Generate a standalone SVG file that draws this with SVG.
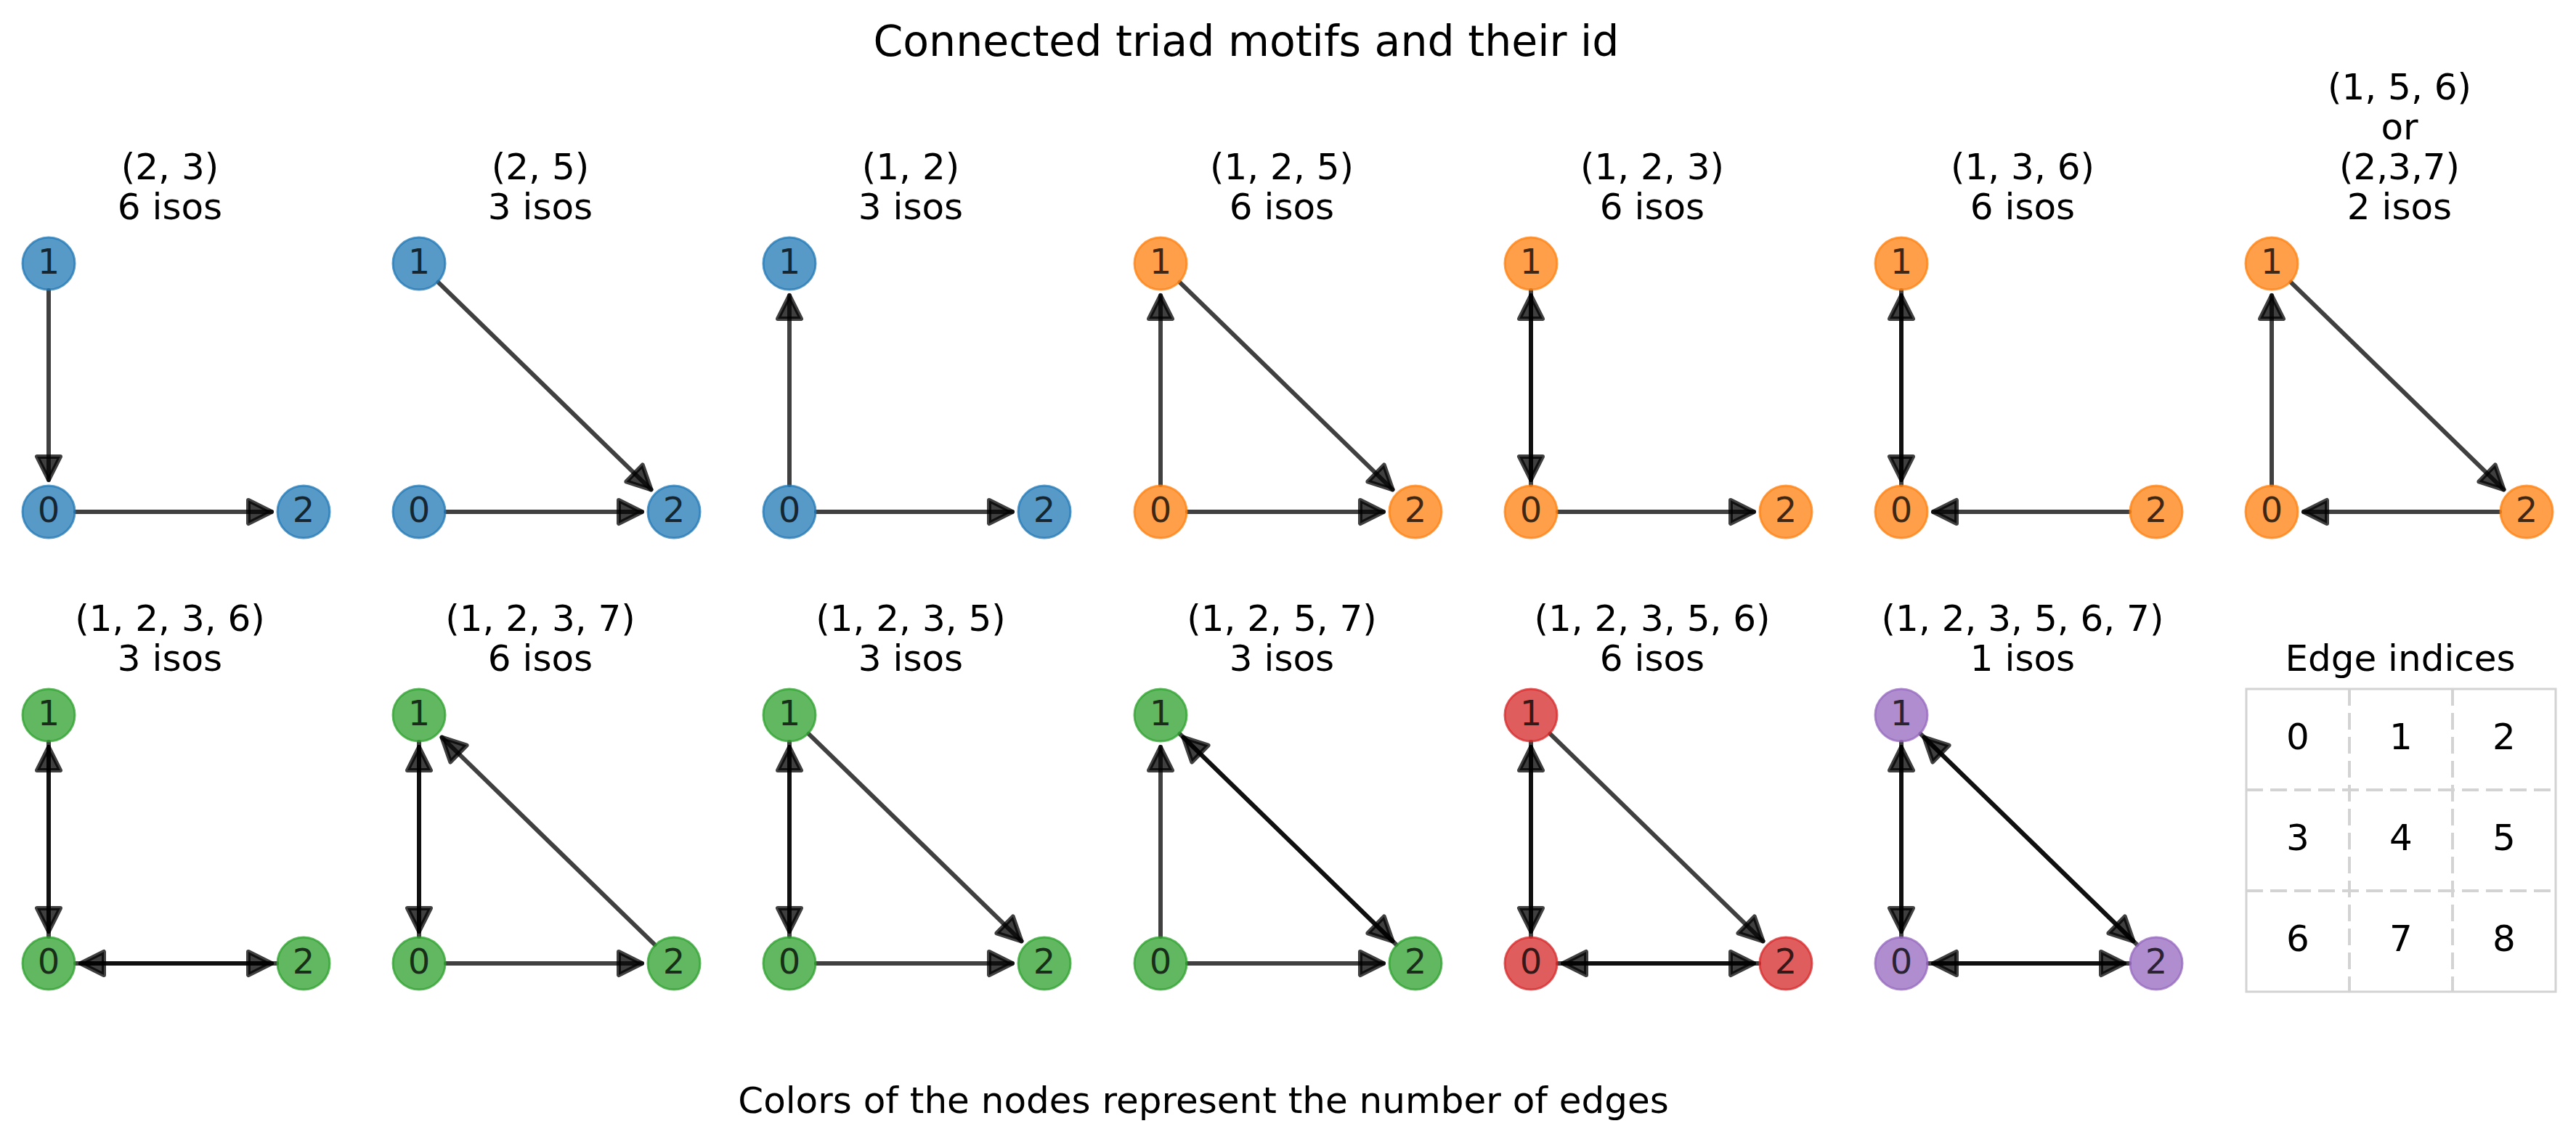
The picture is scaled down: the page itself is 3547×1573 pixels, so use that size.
<svg xmlns="http://www.w3.org/2000/svg" width="3547" height="1573" viewBox="0 0 3547 1573">
<style>
text{font-family:"DejaVu Sans","Liberation Sans",sans-serif;fill:#000}
.title{font-size:58.5px;text-anchor:middle}
.sub{font-size:50px;text-anchor:middle}
.lbl{font-size:48px;text-anchor:middle;fill-opacity:.75}
.cell{font-size:50px;text-anchor:middle}
.e{stroke:#000;stroke-opacity:.75;stroke-width:6;stroke-linecap:round;fill:none;marker-end:url(#ah)}
.n circle{stroke-width:3;fill-opacity:.75;stroke-opacity:.75}
.blue circle{fill:#1f77b4;stroke:#1f77b4}
.orange circle{fill:#ff7f0e;stroke:#ff7f0e}
.green circle{fill:#2ca02c;stroke:#2ca02c}
.red circle{fill:#d62728;stroke:#d62728}
.purple circle{fill:#9467bd;stroke:#9467bd}
.grid{stroke:#d3d3d3;stroke-width:4;stroke-dasharray:23 10;fill:none}
</style>
<defs>
<marker id="ah" markerUnits="userSpaceOnUse" orient="auto" refX="0" refY="0" markerWidth="80" markerHeight="80" viewBox="-40 -40 80 80" overflow="visible">
<path d="M-32,-16 L0,0 L-32,16 Z" fill="#000" fill-opacity=".75" stroke="#000" stroke-opacity=".75" stroke-width="6" stroke-linejoin="round"/>
</marker>
</defs>
<rect width="3547" height="1573" fill="#fff"/>
<text class="title" x="1716" y="77">Connected triad motifs and their id</text>

<g id="subtitles">
<text class="sub" x="234" y="247">(2, 3)</text><text class="sub" x="234" y="302">6 isos</text>
<text class="sub" x="744" y="247">(2, 5)</text><text class="sub" x="744" y="302">3 isos</text>
<text class="sub" x="1254" y="247">(1, 2)</text><text class="sub" x="1254" y="302">3 isos</text>
<text class="sub" x="1765" y="247">(1, 2, 5)</text><text class="sub" x="1765" y="302">6 isos</text>
<text class="sub" x="2275" y="247">(1, 2, 3)</text><text class="sub" x="2275" y="302">6 isos</text>
<text class="sub" x="2785" y="247">(1, 3, 6)</text><text class="sub" x="2785" y="302">6 isos</text>
<text class="sub" x="3304" y="137">(1, 5, 6)</text><text class="sub" x="3304" y="192">or</text><text class="sub" x="3304" y="247">(2,3,7)</text><text class="sub" x="3304" y="302">2 isos</text>
<text class="sub" x="234" y="869">(1, 2, 3, 6)</text><text class="sub" x="234" y="924">3 isos</text>
<text class="sub" x="744" y="869">(1, 2, 3, 7)</text><text class="sub" x="744" y="924">6 isos</text>
<text class="sub" x="1254" y="869">(1, 2, 3, 5)</text><text class="sub" x="1254" y="924">3 isos</text>
<text class="sub" x="1765" y="869">(1, 2, 5, 7)</text><text class="sub" x="1765" y="924">3 isos</text>
<text class="sub" x="2275" y="869">(1, 2, 3, 5, 6)</text><text class="sub" x="2275" y="924">6 isos</text>
<text class="sub" x="2785" y="869">(1, 2, 3, 5, 6, 7)</text><text class="sub" x="2785" y="924">1 isos</text>
</g>

<g id="connectors">
<path class="e" d="M67,400 L67,661"/>
<path class="e" d="M104,705 L374,705"/>

<path class="e" d="M614,705 L884,705"/>
<path class="e" d="M603.5,388.8 L896.5,674.3"/>

<path class="e" d="M1087,668 L1087,407"/>
<path class="e" d="M1124,705 L1394,705"/>

<path class="e" d="M1598,668 L1598,407"/>
<path class="e" d="M1635,705 L1905,705"/>
<path class="e" d="M1624.5,388.8 L1917.5,674.3"/>

<path class="e" d="M2108,668 L2108,407"/>
<path class="e" d="M2108,400 L2108,661"/>
<path class="e" d="M2145,705 L2415,705"/>

<path class="e" d="M2618,668 L2618,407"/>
<path class="e" d="M2618,400 L2618,661"/>
<path class="e" d="M2932,705 L2662,705"/>

<path class="e" d="M3128,668 L3128,407"/>
<path class="e" d="M3154.5,388.8 L3447.5,674.3"/>
<path class="e" d="M3442,705 L3172,705"/>

<path class="e" d="M67,1290 L67,1029"/>
<path class="e" d="M67,1022 L67,1283"/>
<path class="e" d="M104,1327 L374,1327"/>
<path class="e" d="M381,1327 L111,1327"/>

<path class="e" d="M577,1290 L577,1029"/>
<path class="e" d="M577,1022 L577,1283"/>
<path class="e" d="M614,1327 L884,1327"/>
<path class="e" d="M901.5,1301.2 L608.5,1015.7"/>

<path class="e" d="M1087,1290 L1087,1029"/>
<path class="e" d="M1087,1022 L1087,1283"/>
<path class="e" d="M1124,1327 L1394,1327"/>
<path class="e" d="M1113.5,1010.8 L1406.5,1296.3"/>

<path class="e" d="M1598,1290 L1598,1029"/>
<path class="e" d="M1635,1327 L1905,1327"/>
<path class="e" d="M1624.5,1010.8 L1917.5,1296.3"/>
<path class="e" d="M1922.5,1301.2 L1629.5,1015.7"/>

<path class="e" d="M2108,1290 L2108,1029"/>
<path class="e" d="M2108,1022 L2108,1283"/>
<path class="e" d="M2145,1327 L2415,1327"/>
<path class="e" d="M2422,1327 L2152,1327"/>
<path class="e" d="M2134.5,1010.8 L2427.5,1296.3"/>

<path class="e" d="M2618,1290 L2618,1029"/>
<path class="e" d="M2618,1022 L2618,1283"/>
<path class="e" d="M2655,1327 L2925,1327"/>
<path class="e" d="M2932,1327 L2662,1327"/>
<path class="e" d="M2644.5,1010.8 L2937.5,1296.3"/>
<path class="e" d="M2942.5,1301.2 L2649.5,1015.7"/>
</g>

<g id="nodes">
<g id="r1p1-n1" class="n blue"><circle cx="67" cy="363" r="36"/><text class="lbl" x="67" y="377">1</text></g>
<g id="r1p1-n0" class="n blue"><circle cx="67" cy="705" r="36"/><text class="lbl" x="67" y="719">0</text></g>
<g id="r1p1-n2" class="n blue"><circle cx="418" cy="705" r="36"/><text class="lbl" x="418" y="719">2</text></g>

<g id="r1p2-n1" class="n blue"><circle cx="577" cy="363" r="36"/><text class="lbl" x="577" y="377">1</text></g>
<g id="r1p2-n0" class="n blue"><circle cx="577" cy="705" r="36"/><text class="lbl" x="577" y="719">0</text></g>
<g id="r1p2-n2" class="n blue"><circle cx="928" cy="705" r="36"/><text class="lbl" x="928" y="719">2</text></g>

<g id="r1p3-n1" class="n blue"><circle cx="1087" cy="363" r="36"/><text class="lbl" x="1087" y="377">1</text></g>
<g id="r1p3-n0" class="n blue"><circle cx="1087" cy="705" r="36"/><text class="lbl" x="1087" y="719">0</text></g>
<g id="r1p3-n2" class="n blue"><circle cx="1438" cy="705" r="36"/><text class="lbl" x="1438" y="719">2</text></g>

<g id="r1p4-n1" class="n orange"><circle cx="1598" cy="363" r="36"/><text class="lbl" x="1598" y="377">1</text></g>
<g id="r1p4-n0" class="n orange"><circle cx="1598" cy="705" r="36"/><text class="lbl" x="1598" y="719">0</text></g>
<g id="r1p4-n2" class="n orange"><circle cx="1949" cy="705" r="36"/><text class="lbl" x="1949" y="719">2</text></g>

<g id="r1p5-n1" class="n orange"><circle cx="2108" cy="363" r="36"/><text class="lbl" x="2108" y="377">1</text></g>
<g id="r1p5-n0" class="n orange"><circle cx="2108" cy="705" r="36"/><text class="lbl" x="2108" y="719">0</text></g>
<g id="r1p5-n2" class="n orange"><circle cx="2459" cy="705" r="36"/><text class="lbl" x="2459" y="719">2</text></g>

<g id="r1p6-n1" class="n orange"><circle cx="2618" cy="363" r="36"/><text class="lbl" x="2618" y="377">1</text></g>
<g id="r1p6-n0" class="n orange"><circle cx="2618" cy="705" r="36"/><text class="lbl" x="2618" y="719">0</text></g>
<g id="r1p6-n2" class="n orange"><circle cx="2969" cy="705" r="36"/><text class="lbl" x="2969" y="719">2</text></g>

<g id="r1p7-n1" class="n orange"><circle cx="3128" cy="363" r="36"/><text class="lbl" x="3128" y="377">1</text></g>
<g id="r1p7-n0" class="n orange"><circle cx="3128" cy="705" r="36"/><text class="lbl" x="3128" y="719">0</text></g>
<g id="r1p7-n2" class="n orange"><circle cx="3479" cy="705" r="36"/><text class="lbl" x="3479" y="719">2</text></g>

<g id="r2p1-n1" class="n green"><circle cx="67" cy="985" r="36"/><text class="lbl" x="67" y="999">1</text></g>
<g id="r2p1-n0" class="n green"><circle cx="67" cy="1327" r="36"/><text class="lbl" x="67" y="1341">0</text></g>
<g id="r2p1-n2" class="n green"><circle cx="418" cy="1327" r="36"/><text class="lbl" x="418" y="1341">2</text></g>

<g id="r2p2-n1" class="n green"><circle cx="577" cy="985" r="36"/><text class="lbl" x="577" y="999">1</text></g>
<g id="r2p2-n0" class="n green"><circle cx="577" cy="1327" r="36"/><text class="lbl" x="577" y="1341">0</text></g>
<g id="r2p2-n2" class="n green"><circle cx="928" cy="1327" r="36"/><text class="lbl" x="928" y="1341">2</text></g>

<g id="r2p3-n1" class="n green"><circle cx="1087" cy="985" r="36"/><text class="lbl" x="1087" y="999">1</text></g>
<g id="r2p3-n0" class="n green"><circle cx="1087" cy="1327" r="36"/><text class="lbl" x="1087" y="1341">0</text></g>
<g id="r2p3-n2" class="n green"><circle cx="1438" cy="1327" r="36"/><text class="lbl" x="1438" y="1341">2</text></g>

<g id="r2p4-n1" class="n green"><circle cx="1598" cy="985" r="36"/><text class="lbl" x="1598" y="999">1</text></g>
<g id="r2p4-n0" class="n green"><circle cx="1598" cy="1327" r="36"/><text class="lbl" x="1598" y="1341">0</text></g>
<g id="r2p4-n2" class="n green"><circle cx="1949" cy="1327" r="36"/><text class="lbl" x="1949" y="1341">2</text></g>

<g id="r2p5-n1" class="n red"><circle cx="2108" cy="985" r="36"/><text class="lbl" x="2108" y="999">1</text></g>
<g id="r2p5-n0" class="n red"><circle cx="2108" cy="1327" r="36"/><text class="lbl" x="2108" y="1341">0</text></g>
<g id="r2p5-n2" class="n red"><circle cx="2459" cy="1327" r="36"/><text class="lbl" x="2459" y="1341">2</text></g>

<g id="r2p6-n1" class="n purple"><circle cx="2618" cy="985" r="36"/><text class="lbl" x="2618" y="999">1</text></g>
<g id="r2p6-n0" class="n purple"><circle cx="2618" cy="1327" r="36"/><text class="lbl" x="2618" y="1341">0</text></g>
<g id="r2p6-n2" class="n purple"><circle cx="2969" cy="1327" r="36"/><text class="lbl" x="2969" y="1341">2</text></g>
</g>

<g id="edge-index-table">
<text class="sub" x="3305" y="924">Edge indices</text>
<line class="grid" x1="3235" y1="949" x2="3235" y2="1366"/>
<line class="grid" x1="3377" y1="949" x2="3377" y2="1366"/>
<line class="grid" x1="3093" y1="1088" x2="3519" y2="1088"/>
<line class="grid" x1="3093" y1="1227" x2="3519" y2="1227"/>
<rect x="3093" y="949" width="426" height="417" fill="none" stroke="#d3d3d3" stroke-width="3"/>
<text class="cell" x="3164" y="1032">0</text><text class="cell" x="3306" y="1032">1</text><text class="cell" x="3448" y="1032">2</text>
<text class="cell" x="3164" y="1171">3</text><text class="cell" x="3306" y="1171">4</text><text class="cell" x="3448" y="1171">5</text>
<text class="cell" x="3164" y="1310">6</text><text class="cell" x="3306" y="1310">7</text><text class="cell" x="3448" y="1310">8</text>
</g>

<text class="sub" x="1657" y="1533">Colors of the nodes represent the number of edges</text>
</svg>
